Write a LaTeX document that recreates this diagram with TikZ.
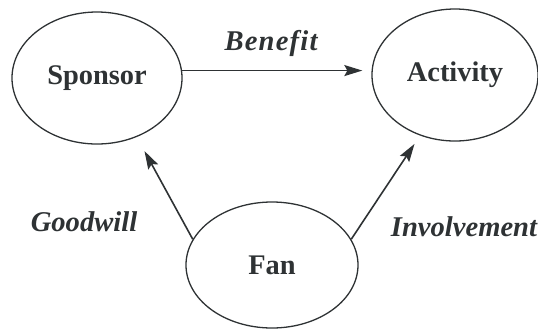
\documentclass[tikz,border=0pt]{standalone}
\usepackage{fontspec}
\setmainfont{Liberation Serif}
\usetikzlibrary{shapes.geometric,arrows.meta}
\definecolor{ink}{HTML}{2E3234}
\tikzset{
  oval/.style={ellipse, draw=ink, line width=0.65pt, inner sep=0pt, text=ink,
    font=\fontsize{14.2}{16}\selectfont\bfseries},
  lbl/.style={text=ink, font=\fontsize{14.3}{16}\selectfont\bfseries\itshape, inner sep=0pt},
  arr/.style={draw=ink, line width=0.8pt, -{Stealth[length=9pt,width=5.5pt,inset=1.5pt]}}
}
\begin{document}
\begin{tikzpicture}[x=0.5pt,y=-0.5pt]
\useasboundingbox (0,0) rectangle (538,329);
\node[oval, minimum width=85pt, minimum height=66pt] (sponsor) at (97,78) {Sponsor};
\node[oval, minimum width=83pt, minimum height=66pt] (activity) at (455,75) {Activity};
\node[oval, minimum width=86pt, minimum height=63pt] (fan) at (272,265) {Fan};
\node[lbl] (benefit) at (271,43) {B\kern0.6pt e\kern0.6pt n\kern0.6pt e\kern0.6pt f\kern0.6pt i\kern0.6pt t};
\node[lbl] (goodwill) at (84,222) {Goodwill};
\node[lbl] (involvement) at (464,227) {Involvement};
\draw[arr, shorten >=4.5pt] (sponsor.5) -- (sponsor.5 -| activity.west);
\draw[arr, shorten >=8pt] (fan.162) -- (sponsor.-56);
\draw[arr, shorten >=5pt] (fan.18) -- (activity.-120);
\end{tikzpicture}
\end{document}
